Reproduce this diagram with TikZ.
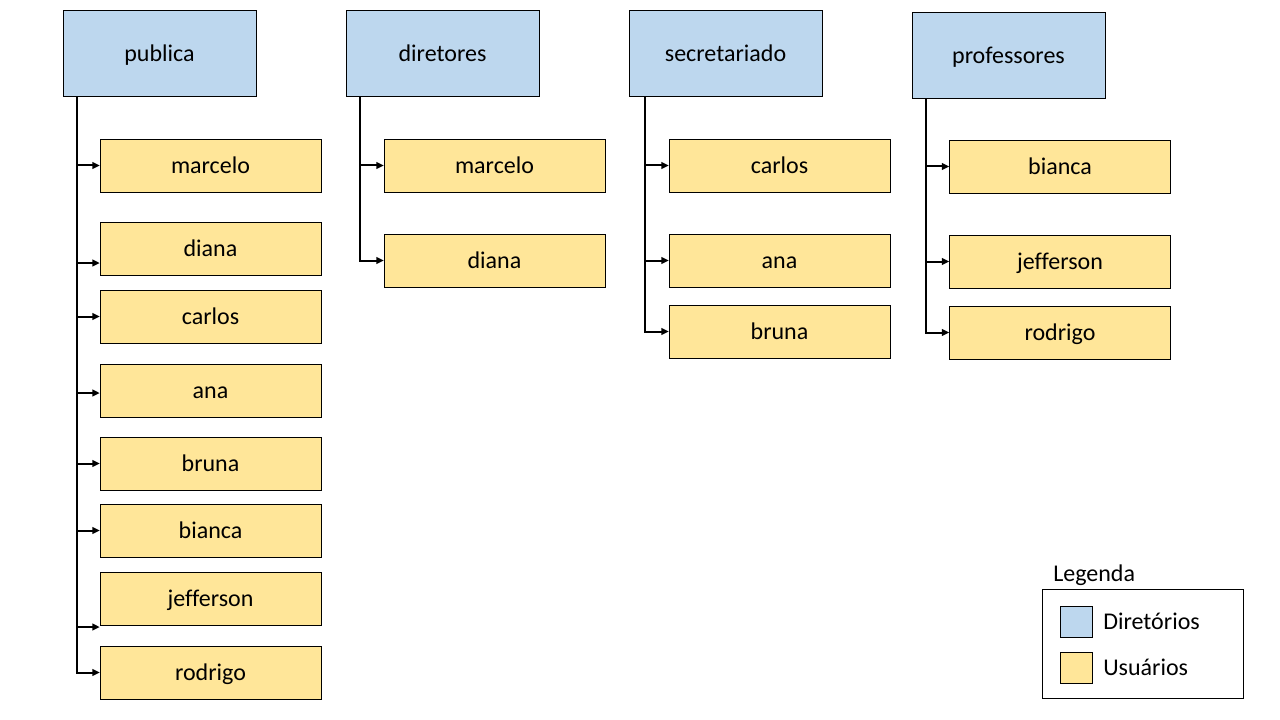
\documentclass[tikz,border=0pt]{standalone}
\usepackage{fontspec}
\setmainfont{Carlito}[Ligatures=CommonOff]
\usepackage{xcolor}
\usetikzlibrary{positioning,arrows.meta}

\definecolor{dirblue}{HTML}{BDD7EE}
\definecolor{usryellow}{HTML}{FFE699}

\tikzset{
    dirbox/.style={draw, fill=dirblue, minimum width=144.75pt, minimum height=64.5pt, text height=15pt, text depth=2.5pt},
    usrbox/.style={draw, fill=usryellow, minimum width=165.75pt, minimum height=39.75pt, text height=15pt, text depth=2.5pt},
    link/.style={-{Triangle[length=5.5pt,width=5pt]}, line width=1.5pt},
    keybox/.style={draw, minimum width=24pt, minimum height=23.25pt}
}

\begin{document}
\begin{tikzpicture}[x=0.75pt, y=-0.75pt, font=\fontsize{18}{21}\selectfont]

    \useasboundingbox (0,0) rectangle (1280,720);

    % diretorios
    \node[dirbox] (pub) at (159.5,53) {publica};
    \node[dirbox] (dir) at (442.5,53) {diretores};
    \node[dirbox] (sec) at (725.5,53) {secretariado};
    \node[dirbox] (prof) at (1008.5,55) {professores};

    % usuarios de publica
    \node[usrbox] (pubMarcelo) at (210.5,165.5) {marcelo};
    \node[usrbox] (pubDiana) at (210.5,248.5) {diana};
    \node[usrbox] (pubCarlos) at (210.5,316.5) {carlos};
    \node[usrbox] (pubAna) at (210.5,390.5) {ana};
    \node[usrbox] (pubBruna) at (210.5,463.5) {bruna};
    \node[usrbox] (pubBianca) at (210.5,530.5) {bianca};
    \node[usrbox] (pubJefferson) at (210.5,598.5) {jefferson};
    \node[usrbox] (pubRodrigo) at (210.5,672.5) {rodrigo};

    % usuarios de diretores
    \node[usrbox] (dirMarcelo) at (494.5,165.5) {marcelo};
    \node[usrbox] (dirDiana) at (494.5,260.5) {diana};

    % usuarios de secretariado
    \node[usrbox] (secCarlos) at (779.5,165.5) {carlos};
    \node[usrbox] (secAna) at (779.5,260.5) {ana};
    \node[usrbox] (secBruna) at (779.5,331.5) {bruna};

    % usuarios de professores
    \node[usrbox] (profBianca) at (1060,166.5) {bianca};
    \node[usrbox] (profJefferson) at (1060,261.5) {jefferson};
    \node[usrbox] (profRodrigo) at (1060,332.5) {rodrigo};

    \foreach \u/\s in {pubMarcelo/0, pubDiana/-10.9, pubCarlos/0, pubAna/-1.9,
                       pubBruna/0, pubBianca/0, pubJefferson/-21.4, pubRodrigo/0}
        \draw[link] ([xshift=10.5pt]pub.south west) |- ([yshift=\s pt]\u.west);

    \foreach \u in {dirMarcelo, dirDiana}
        \draw[link] ([xshift=10.5pt]dir.south west) |- (\u.west);

    \foreach \u in {secCarlos, secAna, secBruna}
        \draw[link] ([xshift=12pt]sec.south west) |- (\u.west);

    \foreach \u in {profBianca, profJefferson, profRodrigo}
        \draw[link] ([xshift=10.5pt]prof.south west) |- (\u.west);

    % legenda
    \node[anchor=west, inner sep=0pt] (legTitle) at (1053,575) {Legenda};
    \node[draw, minimum width=150.75pt, minimum height=81.75pt] (legBox) at (1142.5,643.5) {};
    \node[keybox, fill=dirblue] (keyDir) at (1076,621.5) {};
    \node[keybox, fill=usryellow] (keyUsr) at (1076,667.5) {};
    \node[anchor=west, inner sep=0pt] at (1103,621) {Diretórios};
    \node[anchor=west, inner sep=0pt] at (1103,667) {Usuários};

\end{tikzpicture}
\end{document}
